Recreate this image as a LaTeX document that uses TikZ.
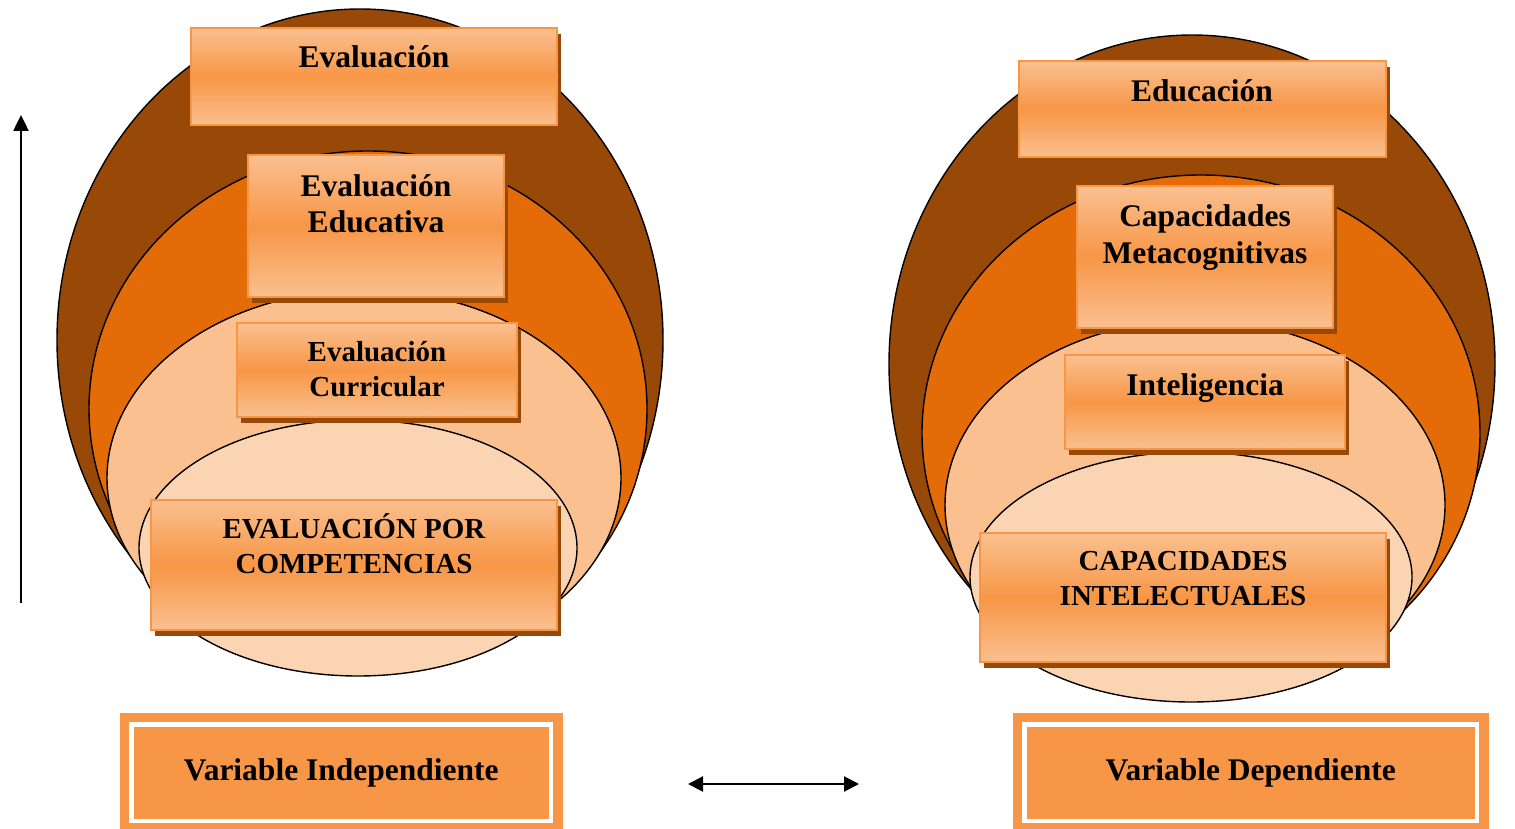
\documentclass[tikz,border=0pt]{standalone}
\usepackage{fontspec}
\setmainfont{Liberation Serif}
\usetikzlibrary{arrows.meta}
\usetikzlibrary{shadows}
\usetikzlibrary{positioning}
\definecolor{evbrown}{RGB}{152,72,7}
\definecolor{evdeep}{RGB}{227,108,9}
\definecolor{evpeach}{RGB}{250,192,144}
\definecolor{evpale}{RGB}{251,212,180}
\definecolor{evorange}{RGB}{247,150,70}
\tikzset{
  ring/.style={draw=black, line width=1.4pt},
  topicbox/.style={rectangle, draw=evorange, line width=2pt, top color=evpeach, bottom color=evpeach, middle color=evorange, drop shadow={shadow xshift=4pt, shadow yshift=-6pt, fill=evbrown, opacity=1}},
  boxtext/.style={font=\fontsize{31.5}{36.5}\selectfont\bfseries, align=center, inner sep=0pt},
  smalltext/.style={boxtext, font=\fontsize{29}{34.5}\selectfont\bfseries},
  varbox/.style={rectangle, fill=evorange, draw=white, line width=4.5pt, preaction={draw=evorange, line width=23pt}, font=\fontsize{31.5}{36}\selectfont\bfseries, inner sep=0pt}
}
\begin{document}
\begin{tikzpicture}[x=1pt, y=-1pt]
      \useasboundingbox (0,0) rectangle (1515,829);

      \draw[ring, fill=evbrown] (360,340) ellipse [x radius=303, y radius=331];
      \draw[ring, fill=evdeep] (368,409) ellipse [x radius=279, y radius=258];
      \draw[ring, fill=evpeach] (364,478) ellipse [x radius=257, y radius=188];
      \draw[ring, fill=evpale] (358,548) ellipse [x radius=219, y radius=128];

      \draw[ring, fill=evbrown] (1192,364) ellipse [x radius=303, y radius=329];
      \draw[ring, fill=evdeep] (1201,433) ellipse [x radius=279, y radius=258];
      \draw[ring, fill=evpeach] (1195,505) ellipse [x radius=250, y radius=185];
      \draw[ring, fill=evpale] (1191,577) ellipse [x radius=221, y radius=125];

      \node[topicbox, minimum width=366pt, minimum height=97pt] (evl) at (374,76.5) {};
      \node[topicbox, minimum width=256pt, minimum height=142pt] (eved) at (376,226) {};
      \node[topicbox, minimum width=280pt, minimum height=94pt] (evcu) at (377,370) {};
      \node[topicbox, minimum width=406pt, minimum height=130pt] (evco) at (354,565) {};

      \node[topicbox, minimum width=367pt, minimum height=96pt] (edu) at (1202.5,109) {};
      \node[topicbox, minimum width=256pt, minimum height=142pt] (meta) at (1205,257) {};
      \node[topicbox, minimum width=280pt, minimum height=94pt] (intl) at (1205,402) {};
      \node[topicbox, minimum width=406pt, minimum height=129pt] (capi) at (1183,597.5) {};

      \node[boxtext, anchor=base] at (374,68) {Evaluación};
      \node[boxtext, anchor=base] at (376,233) {Evaluación\\Educativa};
      \node[smalltext, anchor=base] at (377,396) {Evaluación\\Curricular};
      \node[smalltext, anchor=base] at (354,573) {EVALUACIÓN POR\\COMPETENCIAS};

      \node[boxtext, anchor=base] at (1202,102) {Educación};
      \node[boxtext, anchor=base] at (1205,263) {Capacidades\\Metacognitivas};
      \node[boxtext, anchor=base] at (1205,395) {Inteligencia};
      \node[smalltext, anchor=base] at (1183,605) {CAPACIDADES\\INTELECTUALES};

      \node[varbox, minimum width=419.5pt, minimum height=96.5pt] (vind) at (341.25,772.75) {Variable Independiente};
      \node[varbox, minimum width=452.5pt, minimum height=96.5pt] (vdep) at (1250.75,772.75) {Variable Dependiente};

      \coordinate (up0) at (21,603);
      \coordinate (up1) at (21,115);
      \coordinate (rel0) at (688,784);
      \coordinate (rel1) at (859,784);

      \draw[line width=2.5pt, -{Triangle[length=16pt, width=15pt]}] (up0) -- (up1);
      \draw[line width=2.2pt, {Triangle[length=15pt, width=15pt]}-{Triangle[length=15pt, width=15pt]}] (rel0) -- (rel1);
    \end{tikzpicture}
\end{document}
